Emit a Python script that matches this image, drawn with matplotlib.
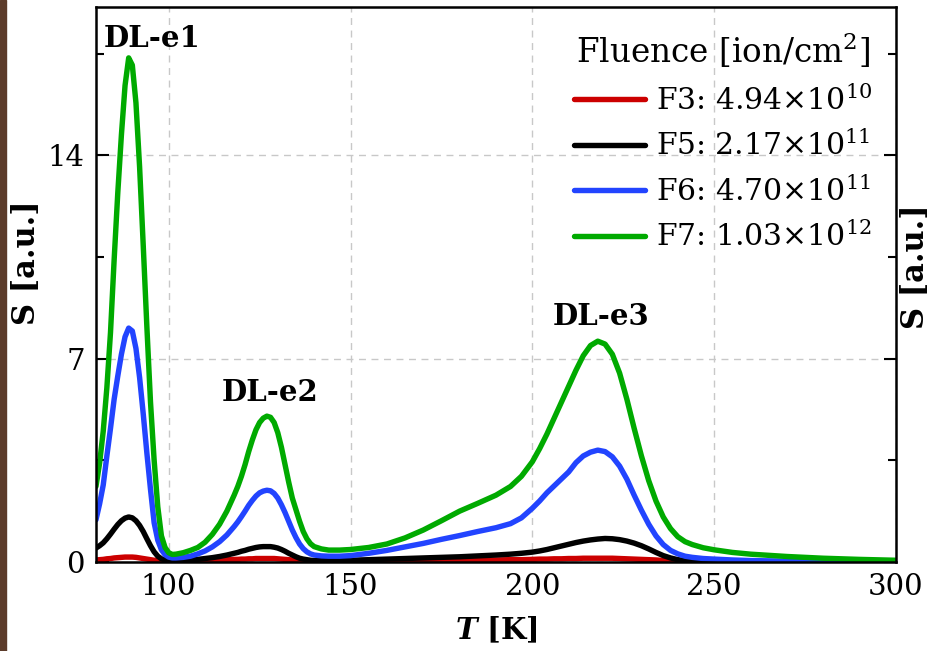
import matplotlib
matplotlib.use("Agg")
import matplotlib.pyplot as plt
from matplotlib.ticker import MultipleLocator
from matplotlib.patches import Rectangle

plt.rcParams['font.family'] = 'DejaVu Serif'
plt.rcParams['mathtext.fontset'] = 'dejavuserif'

# temperature grid [K] (finer around the peaks)
temp = [80, 81, 82, 83, 84, 85, 86, 87, 88, 89, 90, 91, 92, 93, 94, 95, 96, 97, 98, 99,
        100, 101, 102,
        104, 106, 108, 110, 112, 114, 116, 118,
        119, 120, 121, 122, 123, 124, 125, 126, 127, 128, 129, 130, 131, 132, 133, 134,
        135, 136, 137, 138, 139, 140,
        142, 144, 147, 150, 155, 160, 165, 170, 175, 180, 185, 190, 194, 197,
        200, 202, 204, 206, 208, 210, 212, 214, 216, 218, 220, 222, 224, 226, 228, 230,
        232, 234, 236, 238, 240, 242, 244,
        247, 250, 255, 260, 270, 280, 290, 300]

# DLTS signal S [a.u.] for each fluence
s_f3 = [0.07, 0.08, 0.09, 0.11, 0.12, 0.14, 0.15, 0.16, 0.17, 0.17, 0.17, 0.16, 0.14, 0.12,
        0.10, 0.08, 0.06, 0.05, 0.04, 0.03, 0.03, 0.03, 0.03,
        0.03, 0.04, 0.05, 0.05, 0.06, 0.07, 0.08, 0.09,
        0.09, 0.10, 0.10, 0.11, 0.11, 0.12, 0.12, 0.12, 0.12, 0.12, 0.12, 0.11, 0.10, 0.09,
        0.08, 0.07, 0.06, 0.05, 0.04, 0.03, 0.03, 0.02,
        0.02, 0.02, 0.02, 0.02, 0.03, 0.03, 0.04, 0.04, 0.05, 0.05, 0.06, 0.07, 0.08, 0.08,
        0.09, 0.10, 0.10, 0.11, 0.11, 0.12, 0.12, 0.13, 0.13, 0.13, 0.13, 0.13, 0.12, 0.11,
        0.10, 0.09, 0.08, 0.07, 0.05, 0.04, 0.03, 0.02, 0.02,
        0.01, 0.0, 0.0, 0.0, 0.0, 0.0, 0.0, 0.0]
s_f5 = [0.48, 0.56, 0.66, 0.80, 0.96, 1.13, 1.29, 1.42, 1.51, 1.55, 1.52, 1.42, 1.26, 1.05,
        0.80, 0.56, 0.35, 0.20, 0.11, 0.07, 0.05, 0.05, 0.05,
        0.06, 0.07, 0.09, 0.12, 0.15, 0.19, 0.24, 0.30,
        0.33, 0.37, 0.40, 0.44, 0.47, 0.50, 0.52, 0.53, 0.53, 0.53, 0.51, 0.48, 0.43, 0.37,
        0.30, 0.24, 0.18, 0.13, 0.10, 0.08, 0.06, 0.05,
        0.05, 0.05, 0.05, 0.06, 0.08, 0.10, 0.12, 0.14, 0.16, 0.18, 0.21, 0.24, 0.27, 0.30,
        0.34, 0.38, 0.43, 0.49, 0.55, 0.61, 0.67, 0.72, 0.76, 0.79, 0.81, 0.80, 0.77, 0.72,
        0.65, 0.56, 0.45, 0.33, 0.22, 0.14, 0.08, 0.05, 0.04,
        0.03, 0.02, 0.01, 0.01, 0.0, 0.0, 0.0, 0.0]
s_f6 = [1.45, 2.0, 2.65, 3.65, 4.6, 5.6, 6.4, 7.15, 7.75, 8.05, 7.95, 7.35, 6.35, 5.1,
        3.75, 2.5, 1.35, 0.75, 0.42, 0.25, 0.17, 0.14, 0.14,
        0.16, 0.20, 0.28, 0.38, 0.52, 0.70, 0.93, 1.22,
        1.38, 1.56, 1.75, 1.95, 2.12, 2.27, 2.38, 2.44, 2.47, 2.45, 2.36, 2.20, 1.97, 1.70,
        1.40, 1.10, 0.84, 0.62, 0.46, 0.35, 0.28, 0.24,
        0.21, 0.20, 0.20, 0.22, 0.30, 0.40, 0.52, 0.64, 0.78, 0.91, 1.05, 1.18, 1.32, 1.52,
        1.85, 2.10, 2.38, 2.62, 2.86, 3.10, 3.42, 3.65, 3.78, 3.85, 3.80, 3.62, 3.30, 2.85,
        2.30, 1.78, 1.30, 0.90, 0.60, 0.40, 0.28, 0.20, 0.16,
        0.12, 0.10, 0.07, 0.05, 0.03, 0.02, 0.01, 0.01]
s_f7 = [2.6, 3.4, 4.5, 6.0, 7.9, 10.4, 12.7, 14.7, 16.4, 17.35, 17.1, 15.8, 13.6, 10.9,
        8.1, 5.5, 3.5, 1.9, 0.9, 0.5, 0.32, 0.26, 0.27,
        0.32, 0.40, 0.50, 0.68, 0.95, 1.30, 1.75, 2.30,
        2.60, 2.95, 3.35, 3.80, 4.20, 4.55, 4.80, 4.95, 5.02, 4.98, 4.80, 4.45, 3.95, 3.35,
        2.75, 2.20, 1.80, 1.40, 1.05, 0.80, 0.63, 0.53,
        0.45, 0.41, 0.41, 0.43, 0.50, 0.62, 0.83, 1.10, 1.42, 1.75, 2.02, 2.30, 2.60, 2.95,
        3.45, 3.90, 4.40, 4.95, 5.50, 6.05, 6.60, 7.10, 7.45, 7.60, 7.50, 7.15, 6.50, 5.60,
        4.60, 3.65, 2.80, 2.10, 1.55, 1.15, 0.87, 0.70, 0.60,
        0.49, 0.42, 0.33, 0.27, 0.19, 0.13, 0.09, 0.06]

series = [s_f3, s_f5, s_f6, s_f7]
labels = [r'F3: 4.94$\times$10$^{10}$', r'F5: 2.17$\times$10$^{11}$',
          r'F6: 4.70$\times$10$^{11}$', r'F7: 1.03$\times$10$^{12}$']
colors = ['#cc0000', '#000000', '#2244ff', '#00aa00']

peak_names = ['DL-e1', 'DL-e2', 'DL-e3']
peak_pos = [(95.5, 18.0), (128.0, 5.85), (219.0, 8.45)]

fig = plt.figure(figsize=(9.28, 6.51), dpi=100)
ax = fig.add_axes([0.1034, 0.1367, 0.8621, 0.8525])

for s, lab, c in zip(series, labels, colors):
    ax.plot(temp, s, color=c, lw=3.9, label=lab,
            solid_capstyle='round', solid_joinstyle='round')

for name, (x, y) in zip(peak_names, peak_pos):
    ax.text(x, y, name, fontsize=21, fontweight='bold', ha='center', va='center')

ax.set_xlim(80, 300)
ax.set_ylim(0, 19.1)
ax.xaxis.set_major_locator(MultipleLocator(50))
ax.yaxis.set_major_locator(MultipleLocator(7))
ax.yaxis.set_minor_locator(MultipleLocator(3.5))
ax.grid(True, which='major', ls=(0, (5, 4)), color='#c8c8c8', lw=1.0)
ax.tick_params(axis='y', which='both', direction='in', left=True, right=True,
               labelsize=21, width=1.5)
ax.tick_params(axis='y', which='major', length=9, pad=8)
ax.tick_params(axis='y', which='minor', length=6)
ax.tick_params(axis='x', length=0, labelsize=21, pad=8)
for sp in ax.spines.values():
    sp.set_linewidth(1.8)

ax.set_xlabel(r'$\mathbfit{T}$ [K]', fontsize=21, fontweight='bold', labelpad=10)
ax.set_ylabel('S [a.u.]', fontsize=22, fontweight='bold')
ax.yaxis.set_label_coords(-0.067, 0.54)

leg = ax.legend(loc='upper right', frameon=False, fontsize=21.5, handlelength=2.4,
                title=r'Fluence [ion/cm$^2$]', title_fontsize=23.5,
                borderaxespad=0.4, labelspacing=0.5, handletextpad=0.35)

# neighbouring panel: wood edge on the left and its axis label on the right
fig.patches.append(Rectangle((0, 0), 6 / 928, 1, transform=fig.transFigure,
                             color='#5c3b2a', zorder=0))
fig.text(916 / 928, 0.59, 'S [a.u.]', rotation=90, fontsize=22, fontweight='bold',
         ha='center', va='center')

fig.savefig('out.png', dpi=100)
